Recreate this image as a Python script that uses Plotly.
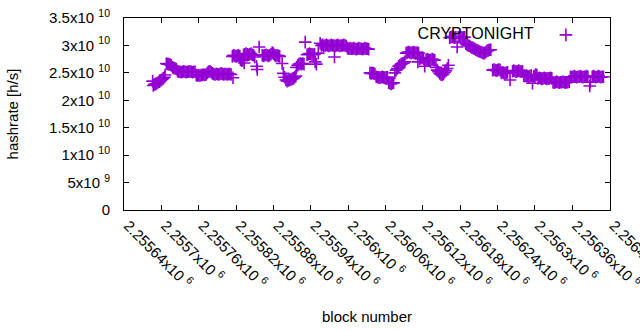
import plotly.graph_objects as go

# ---- data ----
block_number = [
    2255686, 2255687, 2255689, 2255691, 2255693, 2255695, 2255697, 2255699, 2255701, 2255703, 2255705, 2255706,
    2255708, 2255710, 2255712, 2255714, 2255716,
    2255718, 2255720, 2255722, 2255724,
    2255726, 2255728, 2255730, 2255732, 2255734, 2255736, 2255738, 2255740, 2255742, 2255744, 2255746, 2255748, 2255750, 2255752, 2255754,
    2255756, 2255758, 2255760, 2255762, 2255764, 2255766, 2255768, 2255770, 2255772,
    2255774, 2255776, 2255778, 2255780, 2255782,
    2255784, 2255786, 2255788, 2255790, 2255792, 2255794, 2255796, 2255798, 2255800, 2255802, 2255804, 2255806, 2255808, 2255810, 2255812, 2255815,
    2255814, 2255816, 2255818, 2255820, 2255822, 2255824, 2255826,
    2255827, 2255829, 2255831, 2255833,
    2255832, 2255834, 2255836, 2255838, 2255840, 2255842, 2255844, 2255846, 2255848, 2255850,
    2255853, 2255854, 2255857,
    2255862, 2255864, 2255866, 2255868, 2255870, 2255872, 2255874, 2255876, 2255878, 2255880, 2255882, 2255884, 2255886, 2255888, 2255890,
    2255894, 2255896, 2255898, 2255900, 2255902, 2255904, 2255906, 2255908, 2255910, 2255912, 2255914, 2255916,
    2255917, 2255919, 2255921, 2255923, 2255925, 2255927, 2255929,
    2255931, 2255934, 2255936, 2255938, 2255940, 2255942, 2255944, 2255946, 2255947, 2255949, 2255952,
    2255955, 2255957, 2255959, 2255961, 2255963, 2255965, 2255967, 2255969, 2255971, 2255973, 2255975, 2255977, 2255978, 2255979, 2255981, 2255983, 2255985, 2255987, 2255989, 2255991, 2255993, 2255995, 2255997,
    2255999, 2256001, 2256003, 2256005, 2256007, 2256009, 2256011, 2256013, 2256015, 2256017, 2256019, 2256021, 2256023, 2256025, 2256027, 2256029, 2256031, 2256033,
    2256035, 2256037, 2256039, 2256041, 2256043,
    2256045, 2256047, 2256049, 2256051, 2256053, 2256055, 2256057, 2256059, 2256061, 2256063,
    2256065, 2256067, 2256069, 2256071, 2256073,
    2256075, 2256077, 2256079, 2256081, 2256083, 2256085, 2256087, 2256089, 2256091,
    2256093, 2256095, 2256097, 2256099, 2256101, 2256103, 2256105, 2256107, 2256109, 2256111, 2256113,
    2256112, 2256115, 2256117, 2256119, 2256121, 2256123,
    2256125, 2256127, 2256129, 2256131, 2256133, 2256135, 2256137, 2256139,
    2256141, 2256143, 2256145, 2256147, 2256149, 2256151, 2256153, 2256155, 2256157, 2256159, 2256161,
    2256163, 2256165, 2256167, 2256169, 2256171, 2256173, 2256175, 2256177, 2256179, 2256181, 2256183, 2256185, 2256187,
    2256189, 2256191, 2256193, 2256195, 2256197, 2256199, 2256201, 2256203, 2256205, 2256207, 2256209, 2256211, 2256213, 2256215, 2256217, 2256219, 2256221, 2256223, 2256225, 2256227, 2256229,
    2256232, 2256234, 2256236, 2256238, 2256240, 2256242, 2256244,
    2256246, 2256248, 2256250, 2256252, 2256254, 2256256, 2256260,
    2256264, 2256266, 2256268, 2256270, 2256272, 2256274, 2256276, 2256278, 2256280,
    2256282, 2256284, 2256286, 2256288, 2256290, 2256292, 2256294, 2256296, 2256298, 2256300,
    2256301, 2256303,
    2256305, 2256307, 2256309, 2256311, 2256313, 2256315, 2256317, 2256319, 2256321, 2256323, 2256325, 2256327,
    2256329, 2256331, 2256333, 2256335, 2256337, 2256339, 2256341, 2256343, 2256345, 2256347, 2256349, 2256351, 2256353, 2256355,
    2256357, 2256359, 2256361, 2256363, 2256365, 2256367, 2256369, 2256371, 2256373, 2256375, 2256377, 2256379, 2256381, 2256383, 2256385,
    2256388, 2256389,
    2256392, 2256394, 2256396, 2256398, 2256400, 2256402, 2256404, 2256406, 2256408, 2256410,
]

# hashrate in units of 1e10 h/s
hashrate_e10 = [
    2.35, 2.27, 2.29, 2.30, 2.31, 2.33, 2.34, 2.36, 2.38, 2.40, 2.42, 2.46,
    2.67, 2.66, 2.66, 2.65, 2.64,
    2.60, 2.59, 2.58, 2.57,
    2.53, 2.52, 2.52, 2.51, 2.52, 2.53, 2.52, 2.51, 2.52, 2.52, 2.53, 2.52, 2.51, 2.52, 2.52,
    2.46, 2.45, 2.46, 2.45, 2.46, 2.46, 2.47, 2.46, 2.47,
    2.50, 2.52, 2.53, 2.51, 2.49,
    2.48, 2.47, 2.48, 2.48, 2.47, 2.48, 2.49, 2.48, 2.47, 2.48, 2.48, 2.47, 2.48, 2.48, 2.47, 2.41,
    2.80, 2.82, 2.81, 2.80, 2.81, 2.82, 2.80,
    2.74, 2.72, 2.73, 2.68,
    2.83, 2.84, 2.85, 2.84, 2.83, 2.84, 2.85, 2.83, 2.82, 2.79,
    2.62, 2.56, 2.97,
    2.82, 2.81, 2.82, 2.83, 2.82, 2.81, 2.82, 2.84, 2.87, 2.85, 2.82, 2.81, 2.82, 2.81, 2.80,
    2.67, 2.49, 2.42, 2.37, 2.35, 2.36, 2.37, 2.38, 2.39, 2.40, 2.42, 2.44,
    2.60, 2.64, 2.66, 2.67, 2.66, 2.67, 2.66,
    3.06, 2.83, 2.84, 2.85, 2.84, 2.84, 2.83, 2.84, 2.70, 2.66, 2.86,
    3.04, 3.00, 3.01, 2.99, 3.00, 3.01, 3.00, 2.99, 3.00, 3.01, 3.00, 3.00, 2.79, 2.99, 3.00, 3.01, 3.00, 2.99, 3.00, 3.00, 3.01, 3.00, 2.99,
    2.95, 2.94, 2.95, 2.94, 2.94, 2.95, 2.94, 2.93, 2.94, 2.95, 2.94, 2.94, 2.93, 2.94, 2.95, 2.94, 2.94, 2.93,
    2.50, 2.49, 2.50, 2.49, 2.48,
    2.43, 2.42, 2.42, 2.41, 2.42, 2.43, 2.42, 2.41, 2.42, 2.42,
    2.32, 2.31, 2.30, 2.31, 2.32,
    2.50, 2.55, 2.58, 2.62, 2.64, 2.66, 2.67, 2.68, 2.70,
    2.86, 2.87, 2.88, 2.87, 2.86, 2.87, 2.88, 2.87, 2.86, 2.87, 2.86,
    2.70, 2.76, 2.77, 2.78, 2.76, 2.62,
    2.74, 2.75, 2.74, 2.73, 2.74, 2.75, 2.74, 2.73,
    2.60, 2.55, 2.52, 2.49, 2.47, 2.46, 2.48, 2.51, 2.54, 2.58, 2.64,
    3.14, 3.15, 3.16, 3.15, 3.14, 3.15, 2.97, 3.15, 3.16, 3.15, 3.14, 3.15, 3.15,
    3.03, 3.01, 3.00, 2.99, 2.97, 2.96, 2.95, 2.94, 2.92, 2.91, 2.90, 2.89, 2.88, 2.87, 2.86, 2.86, 2.88, 2.90, 2.91, 2.92, 2.92,
    2.55, 2.56, 2.55, 2.54, 2.55, 2.56, 2.55,
    2.50, 2.51, 2.50, 2.49, 2.50, 2.51, 2.37,
    2.53, 2.54, 2.53, 2.52, 2.53, 2.54, 2.53, 2.52, 2.53,
    2.45, 2.44, 2.45, 2.44, 2.43, 2.44, 2.45, 2.31, 2.44, 2.43,
    2.47, 2.46,
    2.40, 2.41, 2.40, 2.39, 2.40, 2.41, 2.40, 2.39, 2.40, 2.40, 2.41, 2.40,
    2.33, 2.32, 2.33, 2.34, 2.33, 2.32, 2.33, 2.33, 2.34, 2.33, 2.32, 2.33, 2.33, 2.34,
    2.43, 2.42, 2.43, 2.44, 2.43, 2.42, 2.43, 2.43, 2.44, 2.43, 2.42, 2.43, 2.43, 2.44, 2.43,
    2.26, 2.33,
    2.43, 2.44, 2.43, 2.42, 2.43, 2.44, 2.43, 2.42, 2.43, 2.43,
]

series_name = "CRYPTONIGHT"

x_tick_values = [2255640, 2255700, 2255760, 2255820, 2255880, 2255940, 2256000,
                 2256060, 2256120, 2256180, 2256240, 2256300, 2256360, 2256420]
x_tick_labels = ["2.25564x10 <sup>6</sup>", "2.2557x10 <sup>6</sup>", "2.25576x10 <sup>6</sup>",
                 "2.25582x10 <sup>6</sup>", "2.25588x10 <sup>6</sup>", "2.25594x10 <sup>6</sup>",
                 "2.256x10 <sup>6</sup>", "2.25606x10 <sup>6</sup>", "2.25612x10 <sup>6</sup>",
                 "2.25618x10 <sup>6</sup>", "2.25624x10 <sup>6</sup>", "2.2563x10 <sup>6</sup>",
                 "2.25636x10 <sup>6</sup>", "2.2564x10 <sup>6</sup>"]
y_tick_values = [0, 5e9, 1e10, 1.5e10, 2e10, 2.5e10, 3e10, 3.5e10]
y_tick_labels = ["0", "5x10 <sup>9</sup>", "1x10 <sup>10</sup>", "1.5x10 <sup>10</sup>",
                 "2x10 <sup>10</sup>", "2.5x10 <sup>10</sup>", "3x10 <sup>10</sup>", "3.5x10 <sup>10</sup>"]

hashrate = [v * 1e10 for v in hashrate_e10]

FONT = "Liberation Sans, Arial, sans-serif"
PURPLE = "#9400D3"

fig = go.Figure()
fig.add_trace(go.Scatter(
    x=block_number, y=hashrate, mode="markers", name="",
    marker=dict(symbol="cross-thin", size=9, color=PURPLE,
                line=dict(color=PURPLE, width=1.6)),
    showlegend=True,
))

axis_common = dict(
    showline=True, linecolor="black", linewidth=1, mirror="ticks",
    ticks="inside", ticklen=5, tickcolor="black", tickwidth=1,
    showgrid=False, zeroline=False,
    tickfont=dict(family=FONT, size=15, color="black"),
)

fig.update_layout(
    width=640, height=330,
    margin=dict(l=124, r=30, t=18, b=120, autoexpand=False),
    paper_bgcolor="white", plot_bgcolor="white",
    font=dict(family=FONT, size=15, color="black"),
    xaxis=dict(range=[2255640, 2256420.5], tickvals=x_tick_values, ticktext=x_tick_labels,
               tickangle=45, ticklabelstandoff=0, ticklabelshift=4,
               ticklabeloverflow="allow",
               title=dict(text="block number", font=dict(family=FONT, size=15), standoff=20),
               **axis_common),
    yaxis=dict(range=[0, 3.5e10], tickvals=y_tick_values, ticktext=y_tick_labels,
               ticklabelstandoff=10,
               title=dict(text="hashrate [h/s]", font=dict(family=FONT, size=15), standoff=26),
               **axis_common),
    legend=dict(orientation="h", x=0.60, y=1.0, xanchor="left", yanchor="top",
                bgcolor="rgba(0,0,0,0)", borderwidth=0,
                title=dict(text=series_name + "\u00a0", side="left",
                           font=dict(family=FONT, size=16)),
                font=dict(family=FONT, size=16)),
    showlegend=True,
)

fig.write_html("out.html")
